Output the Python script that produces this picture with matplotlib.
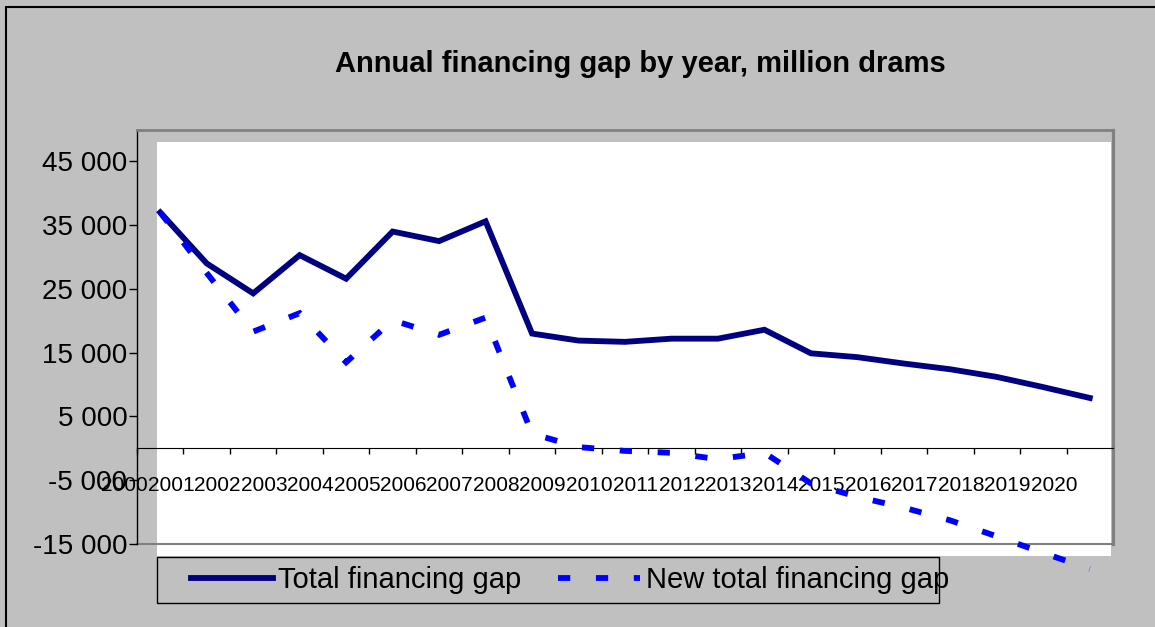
import matplotlib
matplotlib.use("Agg")
import matplotlib.pyplot as plt
from matplotlib.patches import Rectangle
import numpy as np

plt.rcParams['font.family'] = ['Liberation Sans', 'DejaVu Sans']

years = list(range(2000, 2021))
total_gap = [37000, 29000, 24300, 30300, 26600, 34000, 32500, 35600, 18000, 16900,
             16700, 17200, 17200, 18600, 14900, 14300, 13300, 12400, 11200, 9600, 7900]
new_total_gap = [37000, 27500, 18300, 21200, 13500, 20100, 17800, 20500, 2300, 200,
                 -400, -700, -1700, -700, -5500, -7600, -9300, -11300, -13800, -16400, -18900]
y_ticks = list(range(-15000, 50000, 10000))

W, H = 1155, 627
GREY = '#C0C0C0'
FRAME = '#808080'

fig = plt.figure(figsize=(W / 100, H / 100), dpi=100, facecolor=GREY)

# outer chart border (runs off the right and bottom edges)
fig.add_artist(Rectangle((6 / W, -0.05), 1.1, (H - 7) / H + 0.05, transform=fig.transFigure,
                         fill=False, edgecolor='black', lw=1.5, zorder=-2))
# white plot area, offset from the axis frame
fig.add_artist(Rectangle((157 / W, 1 - 556 / H), (1111 - 157) / W, (556 - 142) / H,
                         transform=fig.transFigure, facecolor='white', edgecolor='none', zorder=-1))

ax = fig.add_axes([137 / W, 1 - 544 / H, 976 / W, 414.5 / H])
ax.set_facecolor('none')

x = np.arange(len(years))
l1, = ax.plot(x, total_gap, color='#000080', lw=4.2, solid_joinstyle='miter',
              zorder=4, clip_on=False)
l2, = ax.plot(x, new_total_gap, color='#0000FF', lw=4.2, dashes=(2.1, 4.4),
              dash_capstyle='butt', dash_joinstyle='miter', zorder=4, clip_on=False)

ax.set_xlim(-0.5, len(years) - 0.5)
ax.set_ylim(-15000, 50000)

ax.set_yticks(y_ticks)
ax.set_yticklabels([f"{v:,}".replace(",", " ") for v in y_ticks], fontsize=20)
ax.tick_params(axis='y', length=6, width=1, pad=1, color='black')

ax.set_xticks(np.arange(-0.5, len(years), 1))
ax.set_xticklabels([])
ax.tick_params(axis='x', direction='out', length=4, width=1, color='black')

ax.spines['bottom'].set_position(('data', 0))
ax.spines['bottom'].set_color('black')
ax.spines['left'].set_color('black')
ax.spines['left'].set_linewidth(1)
ax.spines['top'].set_color(FRAME)
ax.spines['top'].set_linewidth(2)
ax.spines['right'].set_color(FRAME)
ax.spines['right'].set_linewidth(2.3)
ax.axhline(-15000, color=FRAME, lw=1.5, clip_on=False, zorder=1)

# year labels sit shifted left of their categories
for i, yr in enumerate(years):
    ax.text(i - 0.77, -5900, str(yr), ha='center', va='center', fontsize=15,
            clip_on=False, zorder=1)

fig.text(640.5 / W, 1 - 64 / H, 'Annual financing gap by year, million drams',
         ha='center', va='center', fontsize=21, fontweight='bold')

fig.add_artist(Rectangle((157 / W, 1 - 603.3 / H), (938.8 - 157) / W, 46 / H,
                         transform=fig.transFigure, fill=False, edgecolor='black', lw=1))
fig.legend([l1, l2], ['Total financing gap', 'New total financing gap'],
           loc='center left', bbox_to_anchor=(191 / W, 1 - 580 / H), ncol=2,
           frameon=False, fontsize=21, handlelength=2.8, handletextpad=0.2,
           columnspacing=1.25, borderpad=0, borderaxespad=0)

fig.savefig('out.png', dpi=100, facecolor=GREY)
